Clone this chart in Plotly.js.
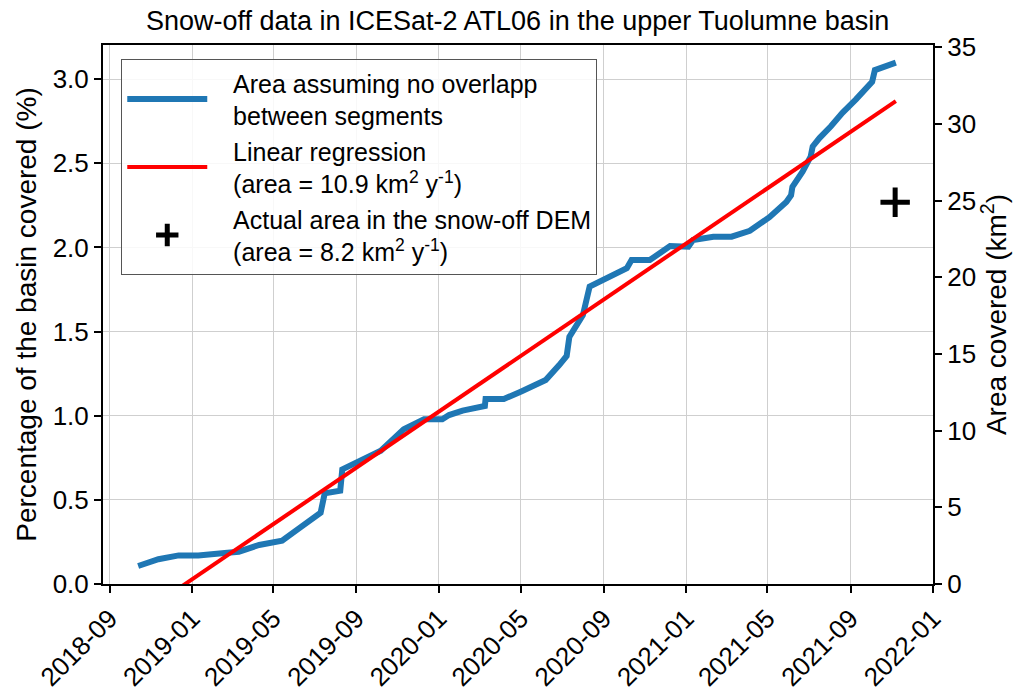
<!DOCTYPE html>
<html>
<head>
<meta charset="utf-8">
<script src="https://cdn.plot.ly/plotly-3.0.1.min.js"></script>
<style>html,body{margin:0;padding:0;background:#fff;}#chart{width:1019px;height:691px;}</style>
</head>
<body>
<div id="chart"></div>
<script>
// Blue series: area assuming no overlap between segments (% of basin)
const areaDates = ["2018-10-13","2018-11-12","2018-12-12","2019-01-10","2019-02-22","2019-03-11","2019-04-10","2019-05-14","2019-06-08","2019-07-10","2019-07-16","2019-08-08","2019-08-11","2019-09-02","2019-10-07","2019-11-10","2019-12-10","2020-01-06","2020-01-16","2020-02-05","2020-03-09","2020-03-10","2020-04-06","2020-05-01","2020-06-07","2020-06-27","2020-07-08","2020-07-12","2020-08-01","2020-08-11","2020-08-31","2020-10-05","2020-10-12","2020-11-08","2020-12-08","2021-01-04","2021-01-11","2021-02-10","2021-03-09","2021-04-05","2021-05-04","2021-05-29","2021-06-05","2021-06-07","2021-06-22","2021-07-04","2021-07-07","2021-07-17","2021-08-03","2021-08-20","2021-09-09","2021-09-28","2021-10-03","2021-10-07","2021-11-07"];
const areaPct = [0.107,0.147,0.170,0.170,0.186,0.192,0.232,0.257,0.331,0.424,0.539,0.555,0.681,0.727,0.792,0.919,0.979,0.979,1.004,1.030,1.058,1.099,1.099,1.143,1.212,1.301,1.355,1.469,1.598,1.767,1.806,1.876,1.925,1.925,2.008,2.004,2.044,2.064,2.064,2.099,2.18,2.27,2.31,2.36,2.45,2.54,2.60,2.65,2.72,2.80,2.88,2.965,2.985,3.054,3.098];

// Red series: linear regression end points (% of basin)
const regDates = ["2018-10-13","2021-11-07"];
const regPct = [-0.19, 2.87];

// Black cross: actual area in the snow-off DEM (km²)
const demDates = ["2021-11-06"];
const demKm2 = [24.9];

const PAD = "\u00a0\u00a0\u00a0";
const legendNames = [
  PAD + "Area assuming no overlapp<br>" + PAD + "between segments",
  PAD + "Linear regression<br>" + PAD + "(area = 10.9 km<sup>2</sup> y<sup>-1</sup>)",
  PAD + "Actual area in the snow-off DEM<br>" + PAD + "(area = 8.2 km<sup>2</sup> y<sup>-1</sup>)"
];

const FONT = "Liberation Sans, Arial, sans-serif";

const traces = [
  {x: areaDates, y: areaPct, type: "scatter", mode: "lines", name: legendNames[0],
   line: {color: "#1f77b4", width: 6}, yaxis: "y"},
  {x: regDates, y: regPct, type: "scatter", mode: "lines", name: legendNames[1],
   line: {color: "#ff0000", width: 4}, yaxis: "y"},
  {x: demDates, y: demKm2, type: "scatter", mode: "markers", name: legendNames[2],
   marker: {symbol: "cross-thin", size: 21, color: "black", line: {color: "black", width: 5}}, yaxis: "y2"}
];

const layout = {
  width: 1019, height: 691,
  margin: {l: 103, r: 86, t: 45, b: 107},
  paper_bgcolor: "#fff", plot_bgcolor: "#fff",
  font: {family: FONT, size: 25, color: "#000"},
  title: {text: "Snow-off data in ICESat-2 ATL06 in the upper Tuolumne basin",
          font: {family: FONT, size: 27, color: "#000"}, x: 0.508, xanchor: "center", y: 0.97, yanchor: "middle"},
  showlegend: true,
  legend: {x: 0.022, y: 0.974, xanchor: "left", yanchor: "top",
           bgcolor: "rgba(255,255,255,0.85)", bordercolor: "#555", borderwidth: 1,
           font: {family: FONT, size: 25, color: "#000"}, itemwidth: 80, tracegroupgap: 0},
  xaxis: {type: "date", range: ["2018-08-22", "2022-01-01"],
          tick0: "2018-09-01", dtick: "M4", tickformat: "%Y-%m", tickangle: -45,
          ticks: "outside", ticklen: 7, tickwidth: 2, tickcolor: "#000",
          showgrid: true, gridcolor: "#cfcfcf", gridwidth: 1,
          showline: true, linecolor: "#000", linewidth: 2, mirror: true,
          zeroline: false, tickfont: {family: FONT, size: 26}},
  yaxis: {range: [0, 3.203], tick0: 0, dtick: 0.5, tickformat: ".1f",
          ticks: "outside", ticklen: 7, tickwidth: 2, tickcolor: "#000",
          showgrid: true, gridcolor: "#cfcfcf", gridwidth: 1,
          showline: true, linecolor: "#000", linewidth: 2, zeroline: false,
          title: {text: "Percentage of the basin covered (%)", font: {family: FONT, size: 28}, standoff: 8},
          tickfont: {family: FONT, size: 26}},
  yaxis2: {overlaying: "y", side: "right", range: [0, 35.15], tick0: 0, dtick: 5,
           ticks: "outside", ticklen: 7, tickwidth: 2, tickcolor: "#000",
           showgrid: false, showline: true, linecolor: "#000", linewidth: 2, zeroline: false,
           title: {text: "Area covered (km<sup>2</sup>)", font: {family: FONT, size: 28}, standoff: 8},
           tickfont: {family: FONT, size: 26}}
};

Plotly.newPlot("chart", traces, layout, {displayModeBar: false, staticPlot: true});
</script>
</body>
</html>
